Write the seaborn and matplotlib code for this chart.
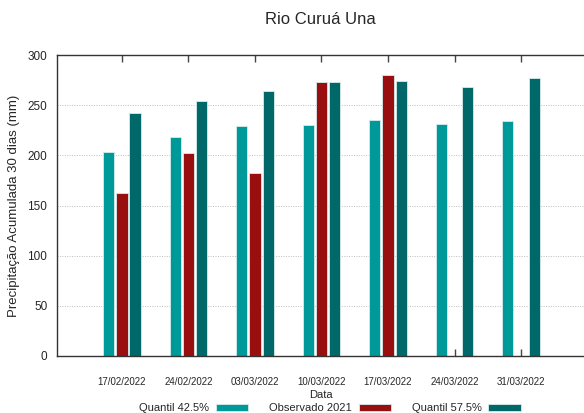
import numpy as np
import pandas as pd
import matplotlib
matplotlib.use("Agg")
import matplotlib.pyplot as plt
import seaborn as sns

# values
datas = ["17/02/2022", "24/02/2022", "03/03/2022", "10/03/2022",
         "17/03/2022", "24/03/2022", "31/03/2022"]
quantil_425 = [203, 218, 229, 230, 235, 231, 234]
observado_2021 = [162, 202, 182, 273, 280, np.nan, np.nan]
quantil_575 = [242, 254, 264, 273, 274, 268, 277]

series = ["Quantil 42.5%", "Observado 2021", "Quantil 57.5%"]
cores = ["#009999", "#990e0e", "#006868"]

df = pd.DataFrame({
    "Data": datas * 3,
    "Serie": [s for s in series for _ in datas],
    "Valor": quantil_425 + observado_2021 + quantil_575,
}).dropna()

sns.set_style("white")
plt.rcParams["font.family"] = ["Liberation Sans", "DejaVu Sans"]

fig = plt.figure(figsize=(5.84, 4.13), dpi=100)
ax = fig.add_axes([57 / 584, 1 - 356 / 413, 1 - 57 / 584, (356 - 55) / 413])

sns.barplot(data=df, x="Data", y="Valor", hue="Serie", order=datas,
            hue_order=series, palette=cores, width=0.59, gap=0.15,
            saturation=1, edgecolor="#d8ecec", linewidth=0.6, ax=ax,
            legend=True)

ax.set_xlim(-0.977, 6.947)
ax.set_ylim(0, 300)
ax.set_yticks(range(0, 301, 50))
for y in range(50, 300, 50):
    ax.axhline(y, color="#bdbdbd", lw=0.7, ls=(0, (1, 1.5)), zorder=0)

ax.tick_params(axis="x", direction="in", top=True, bottom=True, length=5,
               width=1, color="#444444", labelsize=7, pad=15)
ax.tick_params(axis="y", length=0, labelsize=8.5, pad=7)
for s in ["top", "left", "bottom"]:
    ax.spines[s].set_color("#333333")
    ax.spines[s].set_linewidth(1)
ax.spines["right"].set_visible(False)

ax.set_xlabel("Data", fontsize=8, labelpad=2)
ax.set_ylabel("Precipitação Acumulada 30 dias (mm)", fontsize=9.5, labelpad=5)
fig.text(0.548, 1 - 20 / 413, "Rio Curuá Una", ha="center", va="center",
         fontsize=12)

handles, labels = ax.get_legend_handles_labels()
ax.get_legend().remove()
fig.legend(handles, labels, loc="center", bbox_to_anchor=(0.565, 1 - 408 / 413),
           ncol=3, frameon=False, markerfirst=False, fontsize=8,
           handlelength=2.9, handleheight=0.6, columnspacing=1.9,
           handletextpad=0.6, borderpad=0)

fig.savefig("out.png", dpi=100)
